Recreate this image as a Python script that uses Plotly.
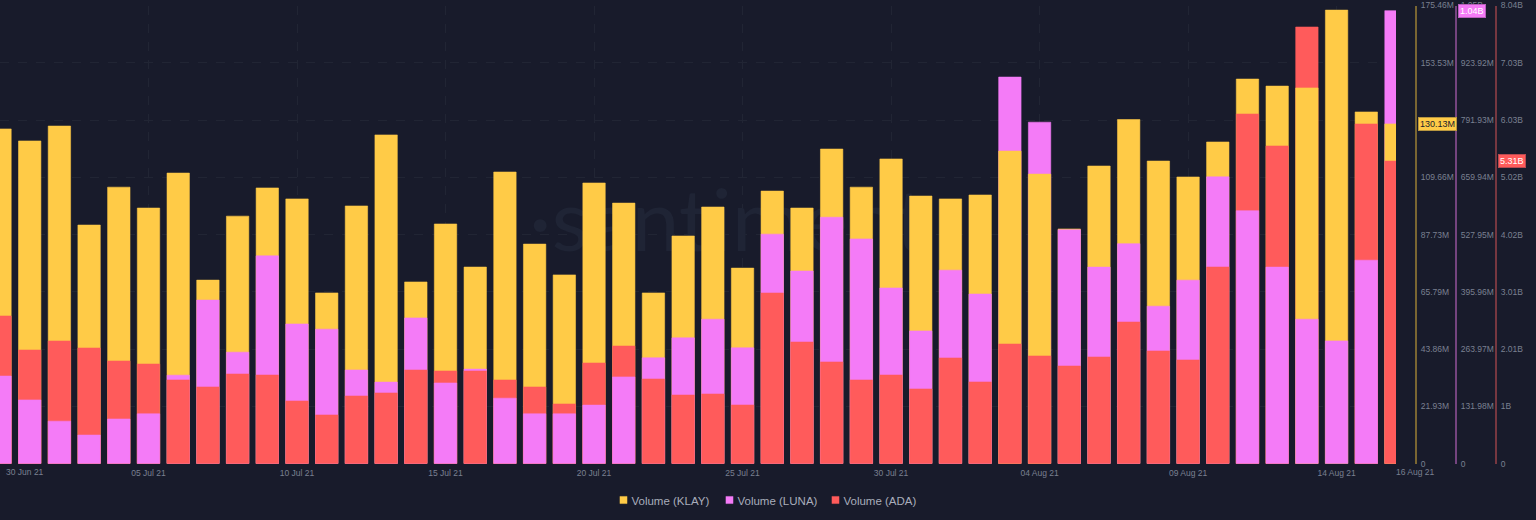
import pandas as pd
import plotly.graph_objects as go

dates = pd.date_range("2021-06-30", "2021-08-16", freq="D").strftime("%Y-%m-%d").tolist()

# All values in millions
klay = [128.2,123.6,129.3,91.4,105.9,97.9,111.3,70.3,94.8,105.6,101.4,65.4,98.7,125.9,69.6,91.8,
        75.3,111.7,84.1,72.3,107.5,99.8,65.4,87.2,98.3,74.9,104.4,97.9,120.5,105.9,116.7,102.5,
        101.4,102.9,119.7,110.9,89.9,114.0,131.8,115.9,109.8,123.2,147.3,144.6,143.9,173.7,134.7,130.13]
luna = [202,147,98,66,103,115,204,377,257,479,322,310,216,188,336,186,
        218,151,115,115,135,200,244,290,333,267,529,444,568,518,405,306,
        446,391,891,787,539,453,507,363,423,661,583,453,333,283,469,1044]
ada = [2592,1995,2153,2030,1802,1749,1469,1346,1574,1556,1100,855,1188,1241,1644,1627,
       1627,1469,1346,1048,1767,2065,1486,1205,1223,1030,2995,2135,1785,1469,1556,1311,
       1855,1434,2100,1890,1714,1872,2486,1978,1820,3451,6136,5575,7663,None,5961,5310]

klay_ticks = [0,21.93,43.86,65.79,87.73,109.66,131.59,153.53,175.46]
klay_labels = ["0","21.93M","43.86M","65.79M","87.73M","109.66M","131.59M","153.53M","175.46M"]
luna_ticks = [0,131.98,263.97,395.96,527.95,659.94,791.93,923.92,1055.84]
luna_labels = ["0","131.98M","263.97M","395.96M","527.95M","659.94M","791.93M","923.92M","1.05B"]
ada_ticks = [0,1005,2010,3015,4020,5025,6030,7035,8040]
ada_labels = ["0","1B","2.01B","3.01B","4.02B","5.02B","6.03B","7.03B","8.04B"]
date_ticks = ["2021-07-05","2021-07-10","2021-07-15","2021-07-20","2021-07-25","2021-07-30",
              "2021-08-04","2021-08-09","2021-08-14"]
date_labels = ["05 Jul 21","10 Jul 21","15 Jul 21","20 Jul 21","25 Jul 21","30 Jul 21",
               "04 Aug 21","09 Aug 21","14 Aug 21"]

BG = "#181B2B"
TICK = "#7A8091"
GRID = "#212534"
W, H = 1536, 520
FONT = "Liberation Sans"

series = [
    dict(name="Volume (KLAY)", v=klay, c="#FFCB47", e="rgba(255,203,71,0.55)", top=klay_ticks[-1],
         back="y4", mid="y5", front="y8"),
    dict(name="Volume (LUNA)", v=luna, c="#F47BF7", e="rgba(244,123,247,0.55)", top=luna_ticks[-1],
         back="y2", mid="y6", front="y9"),
    dict(name="Volume (ADA)", v=ada, c="#FF5B5B", e="rgba(255,91,91,0.55)", top=ada_ticks[-1],
         back="y3", mid="y7", front="y10"),
]

# In every date the tallest column goes to the back, the shortest to the front
ranks = []
for i in range(len(dates)):
    order = sorted(range(3), key=lambda s: -((series[s]["v"][i] or 0) / series[s]["top"]))
    ranks.append({s: r for r, s in enumerate(order)})

fig = go.Figure()

# faint brand mark, below every column
fig.add_trace(go.Scatter(
    x=["2021-07-17T19:30:00"], y=[89.5], mode="text", text=["·santiment"],
    textposition="middle right", yaxis="y", xaxis="x", showlegend=False, hoverinfo="skip",
    textfont=dict(family="Lato", size=86, color="#1F2435"), cliponaxis=False))

for s, d in enumerate(series):
    for r, key in enumerate(["back", "mid", "front"]):
        vals = [v if ranks[i][s] == r else None for i, v in enumerate(d["v"])]
        fig.add_trace(go.Bar(
            x=dates, y=vals, name=d["name"], yaxis=d[key], width=65200000,
            marker=dict(color=d["c"], line=dict(color=d["e"], width=1)),
            showlegend=(r == 0), legendgroup=d["name"]))

dom_x = [0, 1396 / W]
dom_y = [(H - 463.7) / H, (H - 5.5) / H]

def vis_axis(ticks, labels, top, pos, line, **kw):
    return dict(range=[0, top], domain=dom_y, side="right", anchor="free", position=pos / W,
                tickmode="array", tickvals=ticks, ticktext=labels,
                tickfont=dict(family=FONT, size=8.5, color=TICK),
                showline=True, linecolor=line, linewidth=2, zeroline=False,
                ticks="outside", ticklen=2, tickcolor="rgba(0,0,0,0)",
                fixedrange=True, automargin=False, **kw)

layout = dict(
    width=W, height=H, paper_bgcolor=BG, plot_bgcolor=BG,
    margin=dict(l=0, r=0, t=0, b=0, autoexpand=False), barmode="overlay", autosize=False,
    font=dict(family=FONT),
    xaxis=dict(domain=dom_x, type="date", range=[dates[0], dates[-1]],
               tickmode="array", tickvals=date_ticks, ticktext=date_labels,
               tickfont=dict(family=FONT, size=8.5, color=TICK),
               showgrid=True, gridcolor=GRID, griddash="dash", gridwidth=1,
               zeroline=False, showline=False, ticks="", ticklabelstandoff=3,
               fixedrange=True, automargin=False),
    yaxis=vis_axis(klay_ticks, klay_labels, klay_ticks[-1], 1416, "#7A6632",
                   showgrid=True, gridcolor=GRID, griddash="dash", gridwidth=1),
    yaxis2=vis_axis(luna_ticks, luna_labels, luna_ticks[-1], 1456, "#74447F",
                    overlaying="y", showgrid=False),
    yaxis3=vis_axis(ada_ticks, ada_labels, ada_ticks[-1], 1496, "#763740",
                    overlaying="y", showgrid=False),
    legend=dict(orientation="h", x=0.4886, xanchor="center", y=20 / H, yanchor="middle",
                entrywidth=61, entrywidthmode="pixels",
                bgcolor="rgba(0,0,0,0)", font=dict(family=FONT, size=11.5, color="#A8ADBB"),
                itemclick=False, itemdoubleclick=False),
)
for n, top in [(4, klay_ticks[-1]), (5, klay_ticks[-1]), (6, luna_ticks[-1]), (7, ada_ticks[-1]),
               (8, klay_ticks[-1]), (9, luna_ticks[-1]), (10, ada_ticks[-1])]:
    layout[f"yaxis{n}"] = dict(range=[0, top], overlaying="y", visible=False, fixedrange=True,
                               showgrid=False, zeroline=False)
fig.update_layout(**layout)

def edge_label(text, px, anchor):
    fig.add_annotation(text=text, xref="paper", yref="paper", x=px / W, y=(H - 472) / H,
                       xanchor=anchor, yanchor="middle", showarrow=False,
                       font=dict(family=FONT, size=8.5, color=TICK))

edge_label("30 Jun 21", 4, "left")
edge_label("16 Aug 21", 1394, "left")

def tag(text, px, yref, val, bg, fg, border):
    fig.add_annotation(text=text, xref="paper", yref=yref, x=px / W, y=val, xanchor="left",
                       yanchor="middle", showarrow=False, bgcolor=bg, bordercolor=border,
                       borderwidth=1, borderpad=1, font=dict(family=FONT, size=9, color=fg))

tag("130.13M", 1418, "y", klay[-1], "#FFCB47", "#1A1D2C", "#B8963F")
tag("1.04B", 1458, "y2", luna[-1], "#F47BF7", "#FFFFFF", "#B860BC")
tag("5.31B", 1498, "y3", ada[-1], "#FF5B5B", "#FFFFFF", "#B84A50")

post = f"""
document.body.style.margin='0';document.body.style.background='{BG}';
document.querySelectorAll('.legend path.legendbar, .legend .legendpoints path').forEach(function(p){{
  p.setAttribute('transform','translate(32,0) scale(0.6)');
}});
document.querySelectorAll('.legend .scrollbox').forEach(function(g){{ g.removeAttribute('clip-path'); }});
"""
fig.write_html("out.html", config=dict(displayModeBar=False), post_script=post)
